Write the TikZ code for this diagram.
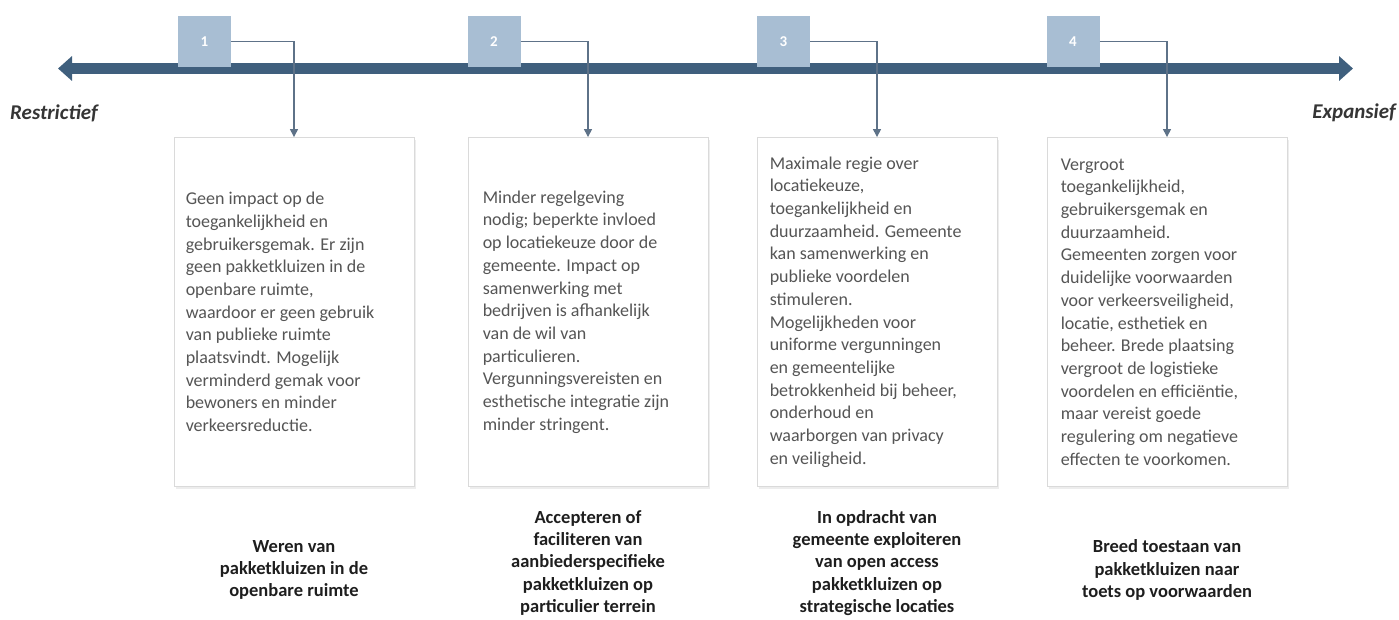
\documentclass[tikz,border=0pt]{standalone}
\usepackage{fontspec}
\setmainfont{Carlito}
\usetikzlibrary{arrows.meta}
\definecolor{barblue}{HTML}{3F5F7D}
\definecolor{sqblue}{HTML}{A8BED3}
\definecolor{conn}{HTML}{5E7288}
\definecolor{boxline}{HTML}{DADADA}
\definecolor{bodytxt}{HTML}{555555}
\definecolor{labtxt}{HTML}{1E1E1E}
\tikzset{
  numsq/.style={fill=sqblue, draw=none, minimum width=53pt, minimum height=51pt, inner sep=0pt, text=white, font=\bfseries\fontsize{15}{17}\selectfont},
  infobox/.style={draw=boxline, line width=0.9pt, fill=white, minimum width=240pt, minimum height=349pt, inner sep=0pt},
  bodytext/.style={anchor=west, align=left, inner sep=0pt, text=bodytxt, font=\fontsize{18}{22.7}\selectfont},
  bottomlab/.style={align=center, inner sep=0pt, text=labtxt, font=\bfseries\fontsize{18.5}{22.3}\selectfont},
  endlab/.style={inner sep=0pt, text=labtxt!90, font=\bfseries\itshape\fontsize{21}{24}\selectfont},
  connector/.style={draw=conn, line width=1.4pt, -{Triangle[length=8pt,width=8pt]}},
  shadowbox/.style={fill=black!7, draw=none, minimum width=240pt, minimum height=349pt, inner sep=0pt}
}
\begin{document}
\begin{tikzpicture}[x=1pt,y=-1pt]
\useasboundingbox (0,0) rectangle (1399,619);
% axis
\coordinate (axL) at (58,68.5);
\coordinate (axR) at (1353,68.5);
\draw[barblue, line width=11pt, {Triangle[length=14pt,width=24pt]}-{Triangle[length=14pt,width=24pt]}] (axL) -- (axR);
% end labels
\node[endlab, anchor=west] (restr) at (10,113) {Restrictief};
\node[endlab, anchor=east] (expan) at (1396,113) {Expansief};
% number squares
\node[numsq] (s1) at (204.5,41.5) {1};
\node[numsq] (s2) at (494,41.5) {2};
\node[numsq] (s3) at (783.5,41.5) {3};
\node[numsq] (s4) at (1073,41.5) {4};
% boxes with shadow
\foreach \cx/\nm in {294/1,588/2,877/3,1167/4}{
  \node[shadowbox] (sh\nm) at (\cx+2,314.5) {};
}
\node[infobox] (b1) at (294,312) {};
\node[infobox] (b2) at (588,312) {};
\node[infobox] (b3) at (877,312) {};
\node[infobox] (b4) at (1167,312) {};
% connectors
\draw[connector] (s1.east) -| (b1.north);
\draw[connector] (s2.east) -| (b2.north);
\draw[connector] (s3.east) -| (b3.north);
\draw[connector] (s4.east) -| (b4.north);
% body texts
\node[bodytext] (t1) at ([xshift=12pt]b1.west) {Geen impact op de\\toegankelijkheid en\\gebruikersgemak. Er zijn\\geen pakketkluizen in de\\openbare ruimte,\\waardoor er geen gebruik\\van publieke ruimte\\plaatsvindt. Mogelijk\\verminderd gemak voor\\bewoners en minder\\verkeersreductie.};
\node[bodytext] (t2) at ([xshift=15pt]b2.west) {Minder regelgeving\\nodig; beperkte invloed\\op locatiekeuze door de\\gemeente. Impact op\\samenwerking met\\bedrijven is afhankelijk\\van de wil van\\particulieren.\\Vergunningsvereisten en\\esthetische integratie zijn\\minder stringent.};
\node[bodytext] (t3) at ([xshift=13pt]b3.west) {Maximale regie over\\locatiekeuze,\\toegankelijkheid en\\duurzaamheid. Gemeente\\kan samenwerking en\\publieke voordelen\\stimuleren.\\Mogelijkheden voor\\uniforme vergunningen\\en gemeentelijke\\betrokkenheid bij beheer,\\onderhoud en\\waarborgen van privacy\\en veiligheid.};
\node[bodytext] (t4) at ([xshift=14pt]b4.west) {Vergroot\\toegankelijkheid,\\gebruikersgemak en\\duurzaamheid.\\Gemeenten zorgen voor\\duidelijke voorwaarden\\voor verkeersveiligheid,\\locatie, esthetiek en\\beheer. Brede plaatsing\\vergroot de logistieke\\voordelen en efficiëntie,\\maar vereist goede\\regulering om negatieve\\effecten te voorkomen.};
% bottom labels
\node[bottomlab] (l1) at (294,570) {Weren van\\pakketkluizen in de\\openbare ruimte};
\node[bottomlab] (l2) at (588,563) {Accepteren of\\faciliteren van\\aanbiederspecifieke\\pakketkluizen op\\particulier terrein};
\node[bottomlab] (l3) at (877,563) {In opdracht van\\gemeente exploiteren\\van open access\\pakketkluizen op\\strategische locaties};
\node[bottomlab] (l4) at (1167,570) {Breed toestaan van\\pakketkluizen naar\\toets op voorwaarden};
\end{tikzpicture}
\end{document}
